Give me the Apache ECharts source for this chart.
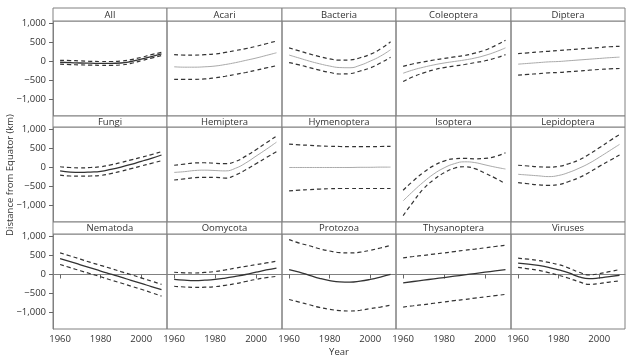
<!DOCTYPE html>
<html><head><meta charset="utf-8">
<script src="https://cdn.jsdelivr.net/npm/echarts@6/dist/echarts.min.js"></script>
<style>html,body{margin:0;padding:0;background:#fff}#c{width:630px;height:360px}</style>
</head><body><div id="c"></div>
<script>
const years = [1960,1965,1970,1975,1980,1985,1990,1995,2000,2005,2010];
const panelNames = ["All","Acari","Bacteria","Coleoptera","Diptera","Fungi","Hemiptera","Hymenoptera","Isoptera","Lepidoptera","Nematoda","Oomycota","Protozoa","Thysanoptera","Viruses"];
const yTicks = [-1000,-500,0,500,1000];
const xTicks = [1960,1980,2000];
// each panel: [upper, centre, lower]
const All = [[30,25,15,5,0,0,10,50,110,180,240],[-20,-30,-40,-45,-50,-50,-40,0,60,130,200],[-70,-80,-90,-95,-100,-100,-90,-50,20,90,160]];
const Acari = [[180,170,170,180,200,240,290,340,400,470,540],[-140,-150,-150,-140,-120,-80,-30,30,90,160,230],[-470,-470,-470,-460,-430,-390,-340,-290,-230,-170,-110]];
const Bacteria = [[360,280,200,130,70,35,40,100,190,330,520],[170,90,10,-60,-120,-160,-165,-100,10,140,310],[-30,-90,-160,-230,-290,-330,-320,-250,-170,-40,110]];
const Coleoptera = [[-130,-60,-10,40,80,120,160,220,300,420,560],[-310,-220,-150,-90,-40,0,40,90,160,250,360],[-530,-400,-300,-220,-160,-120,-80,-30,20,90,180]];
const Diptera = [[210,230,250,270,290,310,330,350,370,390,400],[-70,-50,-30,-10,0,20,40,60,80,100,115],[-360,-340,-320,-300,-290,-270,-250,-230,-210,-195,-185]];
const Fungi = [[20,0,-10,0,20,70,130,200,270,340,420],[-90,-120,-130,-120,-100,-50,10,80,160,240,330],[-200,-225,-230,-225,-210,-160,-100,-30,40,110,180]];
const Hemiptera = [[60,90,120,125,110,100,160,300,470,650,830],[-130,-110,-80,-70,-80,-90,-20,120,300,480,670],[-330,-300,-270,-260,-260,-280,-200,-60,100,260,420]];
const Hymenoptera = [[620,600,585,570,560,555,550,550,550,555,560],[0,0,0,0,0,0,0,5,5,10,10],[-620,-600,-585,-570,-560,-555,-555,-555,-555,-555,-555]];
const Isoptera = [[-600,-350,-130,50,170,230,240,230,240,290,390],[-880,-620,-380,-170,-10,100,150,130,70,10,-40],[-1270,-900,-560,-320,-140,-20,20,-30,-150,-280,-430]];
const Lepidoptera = [[60,40,20,10,30,100,200,350,520,700,870],[-180,-200,-220,-240,-210,-130,-20,110,270,440,610],[-400,-430,-460,-470,-450,-370,-270,-130,30,180,330]];
const Nematoda = [[570,490,405,320,240,160,75,-5,-90,-175,-260],[420,340,255,175,90,10,-70,-155,-235,-320,-400],[265,180,100,20,-60,-145,-225,-310,-390,-480,-570]];
const Oomycota = [[60,45,40,55,80,120,170,215,260,305,350],[-130,-150,-160,-150,-130,-95,-50,0,60,120,170],[-310,-330,-340,-335,-320,-285,-240,-185,-130,-85,-50]];
const Protozoa = [[920,830,760,680,620,580,570,590,640,700,770],[130,60,-20,-100,-160,-195,-200,-175,-130,-70,0],[-660,-730,-800,-870,-920,-955,-965,-945,-900,-860,-810]];
const Thysanoptera = [[440,475,505,540,570,605,640,670,705,740,770],[-220,-185,-150,-115,-80,-45,-10,25,60,95,130],[-860,-825,-795,-760,-725,-690,-660,-625,-590,-560,-525]];
const Viruses = [[430,405,370,320,260,170,60,-10,20,75,130],[300,275,240,190,120,40,-60,-110,-90,-55,-20],[190,150,110,50,-20,-100,-190,-260,-240,-200,-170]];
const panelData = [All,Acari,Bacteria,Coleoptera,Diptera,Fungi,Hemiptera,Hymenoptera,Isoptera,Lepidoptera,Nematoda,Oomycota,Protozoa,Thysanoptera,Viruses];
const significant = ["All","Fungi","Nematoda","Oomycota","Protozoa","Thysanoptera","Viruses"];

const colLeft = [53,167,282,396,511,625];
const rowTop = [21,127,234];
const stripTop = [8,116,222];
const plotH = 95;
const FONT = "'Open Sans', sans-serif";
const FS = 9.5;

const grids=[], xAxes=[], yAxes=[], series=[], graphics=[];
panelNames.forEach((name,i)=>{
  const r=Math.floor(i/5), c=i%5;
  const left=colLeft[c], w=colLeft[c+1]-colLeft[c];
  grids.push({left:left, top:rowTop[r], width:w, height:plotH, show:true, borderColor:'#808080', borderWidth:1, containLabel:false});
  xAxes.push({type:'value', gridIndex:i, min:1956.5, max:2012.7,
    splitLine:{show:false},
    axisLine:{show:r===2, lineStyle:{color:'#808080'}},
    axisTick:{show:r===2, customValues:xTicks, length:4, lineStyle:{color:'#666'}},
    axisLabel:{show:r===2, customValues:xTicks, margin:5, fontSize:FS, color:'#333', fontFamily:FONT, formatter:v=>String(v)}});
  yAxes.push({type:'value', gridIndex:i, min:-1440, max:1070,
    splitLine:{show:false},
    axisLine:{show:c===0, lineStyle:{color:'#808080'}},
    axisTick:{show:c===0, customValues:yTicks, length:4, lineStyle:{color:'#666'}},
    axisLabel:{show:c===0, customValues:yTicks, margin:7, fontSize:FS, color:'#333', fontFamily:FONT,
      formatter:v=> (v<0?'\u2212':'') + Math.abs(v).toLocaleString('en-US')}});
  const d=panelData[i];
  const sig = significant.includes(name);
  const mk=(arr)=>years.map((y,k)=>[y,arr[k]]);
  [0,2].forEach(j=>series.push({type:'line', xAxisIndex:i, yAxisIndex:i, data:mk(d[j]), smooth:true, showSymbol:false, silent:true,
     lineStyle:{color:'#333', width:1.2, type:[4,3]}}));
  series.push({type:'line', xAxisIndex:i, yAxisIndex:i, data:mk(d[1]), smooth:true, showSymbol:false, silent:true,
     lineStyle:{color: sig?'#333':'#aaa', width: sig?1.3:1}});
  const sh = rowTop[r]-stripTop[r];
  graphics.push({type:'rect', shape:{x:left, y:stripTop[r], width:w, height:sh}, style:{fill:'#fff', stroke:'#808080', lineWidth:1}, z:100});
  graphics.push({type:'text', x:left+w/2, y:stripTop[r]+sh/2+0.5, style:{text:name, font:FS+'px '+FONT, fill:'#333', align:'center', verticalAlign:'middle', textAlign:'center', textVerticalAlign:'middle'}, z:101});
});
graphics.push({type:'text', x:10, y:175, rotation:Math.PI/2, style:{text:'Distance from Equator (km)', font:FS+'px '+FONT, fill:'#333', align:'center', verticalAlign:'middle', textAlign:'center', textVerticalAlign:'middle'}});
graphics.push({type:'text', x:339, y:352, style:{text:'Year', font:FS+'px '+FONT, fill:'#333', align:'center', verticalAlign:'middle', textAlign:'center', textVerticalAlign:'middle'}});

const chart = echarts.init(document.getElementById('c'), null, {renderer:'canvas'});
chart.setOption({animation:false, backgroundColor:'#fff', grid:grids, xAxis:xAxes, yAxis:yAxes, series:series, graphic:graphics});
</script></body></html>
